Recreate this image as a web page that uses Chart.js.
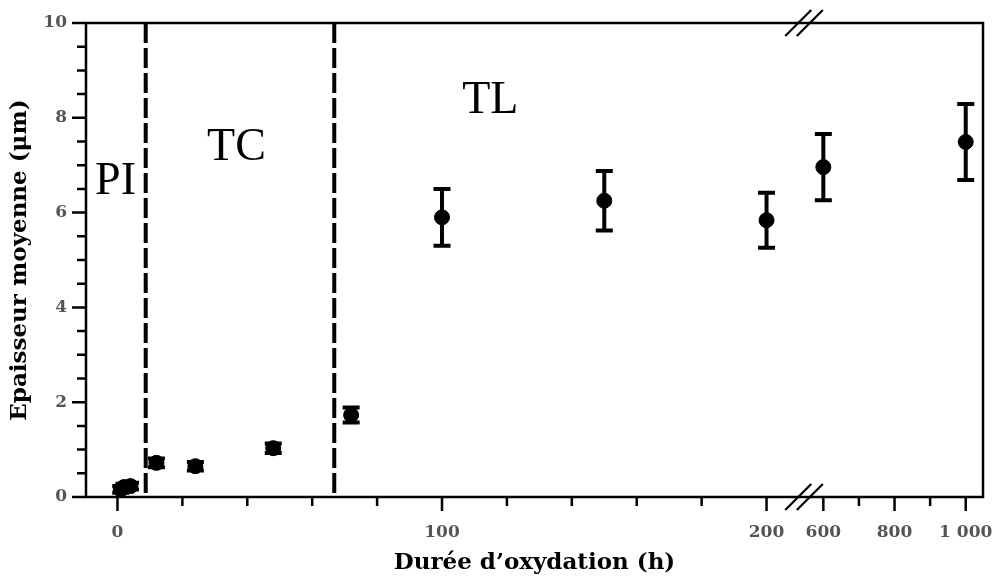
<!DOCTYPE html>
<html>
<head>
<meta charset="utf-8">
<script src="https://cdn.jsdelivr.net/npm/chart.js@4.4.1/dist/chart.umd.min.js"></script>
<style>
  html, body { margin: 0; padding: 0; background: #fff; }
  #wrap { width: 995px; height: 578px; }
</style>
</head>
<body>
<div id="wrap"><canvas id="chart" width="995" height="578"></canvas></div>
<script>
// Données
const hours      = [1, 2, 4, 12, 24, 48, 72, 100, 150, 200, 600, 1000];
const thickness  = [0.16, 0.21, 0.23, 0.72, 0.65, 1.03, 1.73, 5.90, 6.25, 5.84, 6.96, 7.49];
const errors     = [0.07, 0.07, 0.07, 0.09, 0.09, 0.10, 0.16, 0.60, 0.63, 0.58, 0.70, 0.80];

const xMajorTicks  = [0, 100, 200, 600, 800, 1000];
const xMajorLabels = ['0', '100', '200', '600', '800', '1 000'];
const xMinorTicks  = [20, 40, 60, 80, 120, 140, 160, 180, 700, 900];
const regimeLimits = [8.7, 66.8];
const regimeLabels = ['PI', 'TC', 'TL'];

// axe x coupé : 0-200 puis 600-1000 compressé
const BREAK_AT = 400;
const RIGHT_START = 217.5;
const RIGHT_SCALE = 0.1097;
function toAxis(h) {
  return h <= BREAK_AT ? h : RIGHT_START + (h - 600) * RIGHT_SCALE;
}

const labelPos = [[-6.9, 6.39], [27.6, 7.11], [106.2, 8.10]];

const framePlugin = {
  id: 'frame',
  beforeDatasetsDraw(chart) {
    const { ctx, chartArea: a, scales: { x, y } } = chart;
    ctx.save();
    // lignes de séparation des régimes
    ctx.strokeStyle = '#000';
    ctx.lineWidth = 4;
    ctx.setLineDash([20, 5]);
    regimeLimits.forEach(v => {
      const px = x.getPixelForValue(v);
      ctx.beginPath();
      ctx.moveTo(px, a.top);
      ctx.lineTo(px, a.bottom);
      ctx.stroke();
    });
    ctx.setLineDash([]);

    // barres d'erreur
    ctx.lineWidth = 4;
    hours.forEach((h, i) => {
      const px = x.getPixelForValue(toAxis(h));
      const top = y.getPixelForValue(thickness[i] + errors[i]);
      const bot = y.getPixelForValue(thickness[i] - errors[i]);
      ctx.beginPath();
      ctx.moveTo(px, top);
      ctx.lineTo(px, bot);
      ctx.moveTo(px - 8.5, top);
      ctx.lineTo(px + 8.5, top);
      ctx.moveTo(px - 8.5, bot);
      ctx.lineTo(px + 8.5, bot);
      ctx.stroke();
    });

    // textes PI / TC / TL
    ctx.fillStyle = '#000';
    ctx.font = '46px "Liberation Serif", serif';
    ctx.textAlign = 'left';
    ctx.textBaseline = 'alphabetic';
    regimeLabels.forEach((t, i) => {
      ctx.fillText(t, x.getPixelForValue(labelPos[i][0]), y.getPixelForValue(labelPos[i][1]));
    });
    ctx.restore();
  },
  afterDraw(chart) {
    const { ctx, chartArea: a, scales: { x, y } } = chart;
    ctx.save();
    ctx.strokeStyle = '#000';
    ctx.lineWidth = 2.5;
    ctx.strokeRect(a.left, a.top, a.right - a.left, a.bottom - a.top);

    // graduations
    ctx.lineWidth = 2.5;
    ctx.beginPath();
    for (let v = 0; v <= 10.001; v += 0.5) {
      const py = y.getPixelForValue(v);
      const len = Math.abs(v % 2) < 0.01 ? 14 : 9;
      ctx.moveTo(a.left, py);
      ctx.lineTo(a.left - len, py);
    }
    xMajorTicks.forEach(h => {
      const px = x.getPixelForValue(toAxis(h));
      ctx.moveTo(px, a.bottom);
      ctx.lineTo(px, a.bottom + 14);
    });
    xMinorTicks.forEach(h => {
      const px = x.getPixelForValue(toAxis(h));
      ctx.moveTo(px, a.bottom);
      ctx.lineTo(px, a.bottom + 9);
    });
    ctx.stroke();

    // marques de coupure //
    const bx = x.getPixelForValue(toAxis(200)) + 37.5;
    [a.top, a.bottom].forEach(py => {
      [-5.8, 5.8].forEach(dx => {
        ctx.beginPath();
        ctx.lineWidth = 2.2;
        ctx.moveTo(bx + dx - 13, py + 13);
        ctx.lineTo(bx + dx + 13, py - 13);
        ctx.stroke();
      });
    });
    ctx.restore();
  }
};

new Chart(document.getElementById('chart'), {
  type: 'scatter',
  data: {
    datasets: [{
      data: hours.map((h, i) => ({ x: toAxis(h), y: thickness[i] })),
      backgroundColor: '#000',
      borderColor: '#000',
      pointRadius: 7.5,
      pointHoverRadius: 7.5,
      showLine: false
    }]
  },
  options: {
    responsive: false,
    animation: false,
    layout: { padding: { top: 23, right: 12, left: 0, bottom: 0 } },
    plugins: { legend: { display: false }, tooltip: { enabled: false } },
    scales: {
      x: {
        type: 'linear',
        min: -9.7,
        max: 266.7,
        grid: { display: false, drawTicks: false },
        border: { display: false },
        afterBuildTicks: s => { s.ticks = xMajorTicks.map(h => ({ value: toAxis(h) })); },
        afterFit: s => { s.height = 81; s.paddingLeft = 0; s.paddingRight = 0; },
        ticks: {
          padding: 25,
          autoSkip: false,
          maxRotation: 0,
          color: '#555',
          font: { family: '"DejaVu Serif", serif', weight: 'bold', size: 17 },
          callback: (v, i) => xMajorLabels[i]
        },
        title: {
          display: true,
          text: 'Durée d’oxydation (h)',
          color: '#000',
          font: { family: '"DejaVu Serif", serif', weight: 'bold', size: 23 },
          padding: { top: 1, bottom: 1 }
        }
      },
      y: {
        min: 0,
        max: 10,
        grid: { display: false, drawTicks: false },
        border: { display: false },
        afterFit: s => { s.width = 86; s.paddingTop = 0; s.paddingBottom = 0; },
        ticks: {
          stepSize: 2,
          padding: 19,
          color: '#555',
          font: { family: '"DejaVu Serif", serif', weight: 'bold', size: 17 }
        },
        title: {
          display: true,
          text: 'Epaisseur moyenne (μm)',
          color: '#000',
          font: { family: '"DejaVu Serif", serif', weight: 'bold', size: 23 },
          padding: { top: 6, bottom: 6 }
        }
      }
    }
  },
  plugins: [framePlugin]
});
</script>
</body>
</html>
